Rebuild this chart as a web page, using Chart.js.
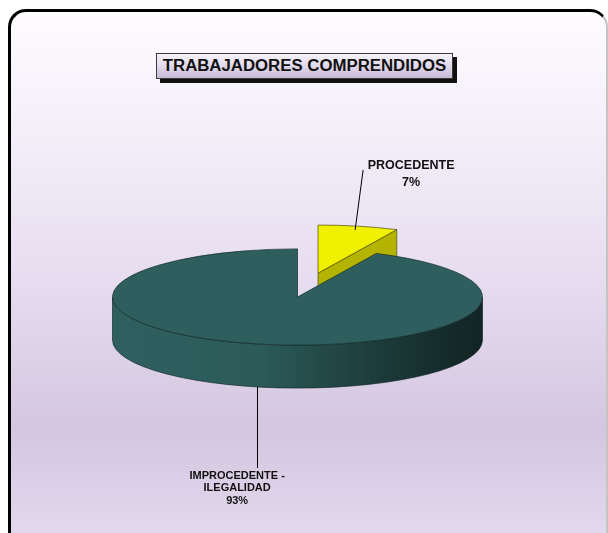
<!DOCTYPE html>
<html>
<head>
<meta charset="utf-8">
<script src="https://cdn.jsdelivr.net/npm/chart.js@4.4.0/dist/chart.umd.min.js"></script>
<style>
  html, body { margin: 0; padding: 0; background: #fff; overflow: hidden; }
  #wrap { position: relative; width: 608px; height: 533px; overflow: hidden; font-family: "Liberation Sans", Arial, sans-serif; }
  #frame {
    position: absolute; left: 8px; top: 9px; width: 600px; height: 540px; box-sizing: border-box;
    border: 3px solid #000; border-right: 2px solid #c4c4c4; border-radius: 18px;
    background: linear-gradient(to bottom, #fefcff 0%, #f1ebf7 28%, #e6ddf0 50%, #d4c6e0 78%, #e3dbef 100%);
  }
  #title {
    position: absolute; left: 156px; top: 53px; width: 297px; height: 26px; box-sizing: border-box;
    border: 1px solid #3a3a3a; box-shadow: 4px 4px 0 #111;
    background: linear-gradient(to bottom, #f6f3fa 0%, #dcd3e8 60%, #c6b9d7 100%);
    font-weight: bold; font-size: 16.8px; line-height: 24px; text-align: center; color: #111;
  }
  canvas { position: absolute; left: 0; top: 0; }
</style>
</head>
<body>
<div id="wrap">
  <div id="frame"></div>
  <div id="title">TRABAJADORES COMPRENDIDOS</div>
  <canvas id="pie" width="608" height="533"></canvas>
</div>
<script>
// datos
const categorias = [['PROCEDENTE'], ['IMPROCEDENTE -', 'ILEGALIDAD']];
const valores = [7, 93];
const colores = ['#f0f000', '#2e5e5d'];
const explosion = [94, 0];   // separacion de la porcion, en px del disco

// aspecto 3D
const K = 0.26;      // aplastamiento vertical
const DEPTH = 43;    // grosor del disco

const total = valores.reduce((a, b) => a + b, 0);

// desplazamiento de la porcion (espacio del disco, sin aplastar)
const despl = (arc, i) => {
    const half = (arc.startAngle + arc.endAngle) / 2;
    return { dx: Math.cos(half) * explosion[i], dy: Math.sin(half) * explosion[i] };
};
// centro de la porcion en pantalla
const centro = (arc, i) => {
    const d = despl(arc, i);
    return { x: arc.x + d.dx, y: arc.y + d.dy * K };
};
const punto = (arc, i, ang, r, z) => {
    const c = centro(arc, i);
    return { x: c.x + Math.cos(ang) * r, y: c.y + Math.sin(ang) * r * K + (z || 0) };
};

const pie3d = {
    id: 'pie3d',
    beforeDatasetsDraw(chart) {
        const ctx = chart.ctx;
        const arcs = chart.getDatasetMeta(0).data;
        arcs.forEach((arc, i) => {
            const c = centro(arc, i);
            const R = arc.outerRadius;
            const s = arc.startAngle, e = arc.endAngle;
            const lado = i === 0 ? '#b4b400' : null;

            // caras radiales visibles
            [[s, Math.cos(s) < -0.01], [e, Math.cos(e) > 0.01]].forEach(([a, vis]) => {
                if (!vis) return;
                const p = punto(arc, i, a, R, 0);
                ctx.beginPath();
                ctx.moveTo(c.x, c.y);
                ctx.lineTo(p.x, p.y);
                ctx.lineTo(p.x, p.y + DEPTH);
                ctx.lineTo(c.x, c.y + DEPTH);
                ctx.closePath();
                ctx.fillStyle = lado || '#244a49';
                ctx.fill();
                ctx.strokeStyle = 'rgba(40,40,0,0.7)';
                ctx.lineWidth = 0.8;
                ctx.stroke();
            });

            // lateral exterior (mitad frontal)
            for (let n = -1; n <= 1; n++) {
                const a = Math.max(s, n * 2 * Math.PI);
                const b = Math.min(e, n * 2 * Math.PI + Math.PI);
                if (b <= a) continue;
                const g = ctx.createLinearGradient(c.x - R, 0, c.x + R, 0);
                if (lado) {
                    g.addColorStop(0, lado); g.addColorStop(1, '#8a8a00');
                } else {
                    g.addColorStop(0, '#2f605f');
                    g.addColorStop(0.4, '#2b5a59');
                    g.addColorStop(0.72, '#1c3b3a');
                    g.addColorStop(1, '#112423');
                }
                ctx.beginPath();
                ctx.ellipse(c.x, c.y, R, R * K, 0, a, b);
                ctx.ellipse(c.x, c.y + DEPTH, R, R * K, 0, b, a, true);
                ctx.closePath();
                ctx.fillStyle = g;
                ctx.fill();
                ctx.strokeStyle = 'rgba(15,35,34,0.8)';
                ctx.lineWidth = 0.8;
                ctx.stroke();
            }

            // cara superior: la dibuja el propio elemento, aplastado y desplazado
            const d = despl(arc, i);
            ctx.save();
            ctx.translate(0, arc.y);
            ctx.scale(1, K);
            ctx.translate(d.dx, d.dy - arc.y);
            arc.draw(ctx);
            ctx.restore();

            ctx.beginPath();
            ctx.moveTo(c.x, c.y);
            ctx.ellipse(c.x, c.y, R, R * K, 0, s, e);
            ctx.closePath();
            ctx.strokeStyle = i === 0 ? 'rgba(60,60,0,0.8)' : 'rgba(20,45,44,0.9)';
            ctx.lineWidth = 0.8;
            ctx.stroke();
        });
        return false;
    },
    afterDraw(chart) {
        const ctx = chart.ctx;
        const arcs = chart.getDatasetMeta(0).data;
        ctx.save();
        ctx.strokeStyle = '#000';
        ctx.fillStyle = '#111';
        ctx.lineWidth = 1;
        ctx.textAlign = 'center';
        ctx.textBaseline = 'middle';

        // PROCEDENTE
        let arc = arcs[0];
        let half = (arc.startAngle + arc.endAngle) / 2;
        let p = punto(arc, 0, half, arc.outerRadius * 0.92, 0);
        let q = { x: p.x + 8, y: p.y - 60 };
        ctx.beginPath(); ctx.moveTo(p.x, p.y); ctx.lineTo(q.x, q.y); ctx.stroke();
        ctx.font = 'bold 12.5px "Liberation Sans", Arial, sans-serif';
        let lineas = categorias[0].concat([Math.round(valores[0] / total * 100) + '%']);
        lineas.forEach((t, j) => ctx.fillText(t, q.x + 48, q.y - 4 + j * 17));

        // IMPROCEDENTE
        arc = arcs[1];
        half = (arc.startAngle + arc.endAngle) / 2;
        p = punto(arc, 1, half, arc.outerRadius, DEPTH);
        q = { x: p.x, y: p.y + 81 };
        ctx.beginPath(); ctx.moveTo(Math.round(p.x) + 0.5, p.y); ctx.lineTo(Math.round(q.x) + 0.5, q.y); ctx.stroke();
        ctx.font = 'bold 11px "Liberation Sans", Arial, sans-serif';
        lineas = categorias[1].concat([Math.round(valores[1] / total * 100) + '%']);
        lineas.forEach((t, j) => ctx.fillText(t, q.x - 20, q.y + 8 + j * 12.5));
        ctx.restore();
    }
};

new Chart(document.getElementById('pie'), {
    type: 'pie',
    data: {
        labels: categorias.map(c => c.join(' ')),
        datasets: [{
            data: valores,
            backgroundColor: colores,
            borderWidth: 0,
            radius: 185
        }]
    },
    options: {
        responsive: false,
        animation: false,
        devicePixelRatio: 1,
        layout: { padding: { top: 61, bottom: 0, left: 0, right: 13 } },
        plugins: {
            legend: { display: false },
            tooltip: { enabled: false },
            title: { display: false }
        }
    },
    plugins: [pie3d]
});
</script>
</body>
</html>
